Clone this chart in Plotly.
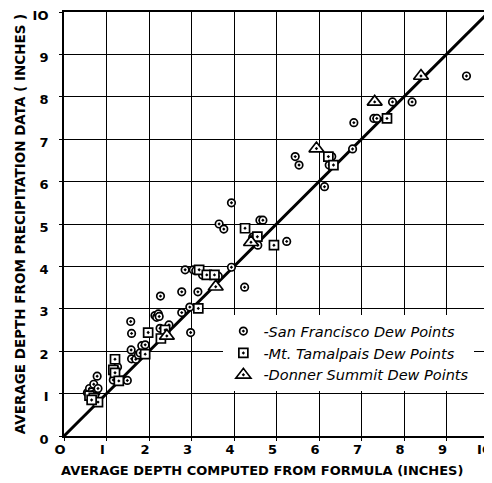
import plotly.graph_objects as go

# San Francisco dew points (circles)
sf_x = [0.55, 0.60, 0.65, 0.70, 0.75, 0.80, 0.78, 0.60,
        1.26, 1.16, 1.36, 1.49,
        1.57, 1.59, 1.58, 1.59, 1.69, 1.75, 1.79, 1.83, 1.91,
        2.14, 2.18, 2.22, 2.24, 2.26, 2.38, 2.47,
        2.77, 2.96, 2.98, 2.27, 2.77, 3.15,
        2.85, 3.04, 3.10, 3.26, 3.63, 3.94, 4.25,
        3.65, 3.76, 3.94, 4.61, 4.68, 4.44, 4.56, 5.24,
        5.44, 5.53, 6.13, 6.30, 6.24,
        6.79, 6.82, 7.29, 7.36, 7.73, 8.19, 9.47]
sf_y = [1.02, 1.12, 1.04, 1.22, 1.02, 1.12, 1.41, 0.90,
        1.63, 1.32, 1.32, 1.31,
        2.70, 2.42, 2.03, 1.82, 1.81, 1.91, 1.96, 2.13, 2.15,
        2.84, 2.80, 2.88, 2.82, 2.54, 2.52, 2.62,
        2.91, 3.04, 2.44, 3.30, 3.40, 3.40,
        3.92, 3.92, 3.90, 3.80, 3.77, 3.98, 3.51,
        5.00, 4.88, 5.50, 5.09, 5.09, 4.69, 4.50, 4.59,
        6.59, 6.39, 5.88, 6.59, 6.39,
        6.77, 7.39, 7.49, 7.49, 7.88, 7.88, 8.49]

# Mt. Tamalpais dew points (squares)
mt_x = [0.60, 0.70, 0.80, 0.65,
        1.20, 1.16, 1.20, 1.29,
        1.91, 1.98, 2.38, 2.28,
        3.16, 3.18, 3.36, 3.54,
        4.26, 4.55, 4.94,
        6.22, 6.34, 7.60]
mt_y = [0.95, 0.90, 0.80, 0.85,
        1.81, 1.56, 1.49, 1.30,
        1.93, 2.44, 2.50, 2.30,
        3.01, 3.92, 3.80, 3.80,
        4.90, 4.70, 4.50,
        6.59, 6.39, 7.49]

# Donner Summit dew points (triangles)
ds_x = [2.42, 3.57, 4.40, 5.94, 7.31, 8.40]
ds_y = [2.36, 3.52, 4.57, 6.78, 7.88, 8.49]

# Line of equality
eq_line = [0, 10]

tick_vals = list(range(0, 11))
x_tick_text = ["O", "I", "2", "3", "4", "5", "6", "7", "8", "9", "IO"]
y_tick_text = ["0", "I", "2", "3", "4", "5", "6", "7", "8", "9", "IO"]

x_title = "AVERAGE DEPTH COMPUTED FROM FORMULA (INCHES)"
y_title = "AVERAGE DEPTH FROM PRECIPITATION DATA ( INCHES )"

fig = go.Figure()

fig.add_trace(go.Scatter(
    x=eq_line, y=eq_line, mode="lines",
    line=dict(color="black", width=3), showlegend=False, hoverinfo="skip"))

fig.add_trace(go.Scatter(
    x=sf_x, y=sf_y, mode="markers", name="-San Francisco Dew Points",
    marker=dict(symbol="circle-dot", size=7.5, color="white",
                line=dict(color="black", width=1.7))))
fig.add_trace(go.Scatter(
    x=mt_x, y=mt_y, mode="markers", name="-Mt. Tamalpais Dew Points",
    marker=dict(symbol="square-dot", size=9, color="white",
                line=dict(color="black", width=1.7))))
fig.add_trace(go.Scatter(
    x=ds_x, y=ds_y, mode="markers", name="-Donner Summit Dew Points",
    marker=dict(symbol="triangle-up-dot", size=13, color="white",
                line=dict(color="black", width=1.7))))

axis_common = dict(
    range=[0, 10], tickvals=tick_vals,
    showgrid=True, gridcolor="black", gridwidth=1.2,
    showline=True, linecolor="black", linewidth=1.8, mirror=True,
    zeroline=False, ticks="outside", ticklen=3, tickcolor="black",
    tickfont=dict(family="DejaVu Sans", size=13, color="black", weight="bold"),
    ticklabeloverflow="allow",
    automargin=False, fixedrange=True,
)

fig.update_layout(
    width=484, height=475,
    margin=dict(l=56, r=3, t=4, b=47),
    paper_bgcolor="white", plot_bgcolor="white",
    xaxis=dict(**axis_common, ticktext=x_tick_text, ticklabelstandoff=-3,
               ticklabelshift=-4),
    yaxis=dict(**axis_common, ticktext=y_tick_text, ticklabelstandoff=8,
               ticklabelshift=3,
               title=dict(text=y_title,
                          font=dict(family="DejaVu Sans", size=13.5, color="black", weight="bold"),
                          standoff=4)),
    annotations=[dict(text=x_title, xref="paper", yref="paper", x=0.465, y=0,
                      xanchor="center", yanchor="middle", yshift=-34, showarrow=False,
                      font=dict(family="DejaVu Sans", size=13, color="black", weight="bold"))],
    legend=dict(x=0.375, y=0.285, xanchor="left", yanchor="top",
                bgcolor="white", borderwidth=0,
                font=dict(family="DejaVu Sans", size=14.5, color="black", style="italic"),
                itemwidth=30, tracegroupgap=0),
    showlegend=True,
)

fig.write_html("out.html")
